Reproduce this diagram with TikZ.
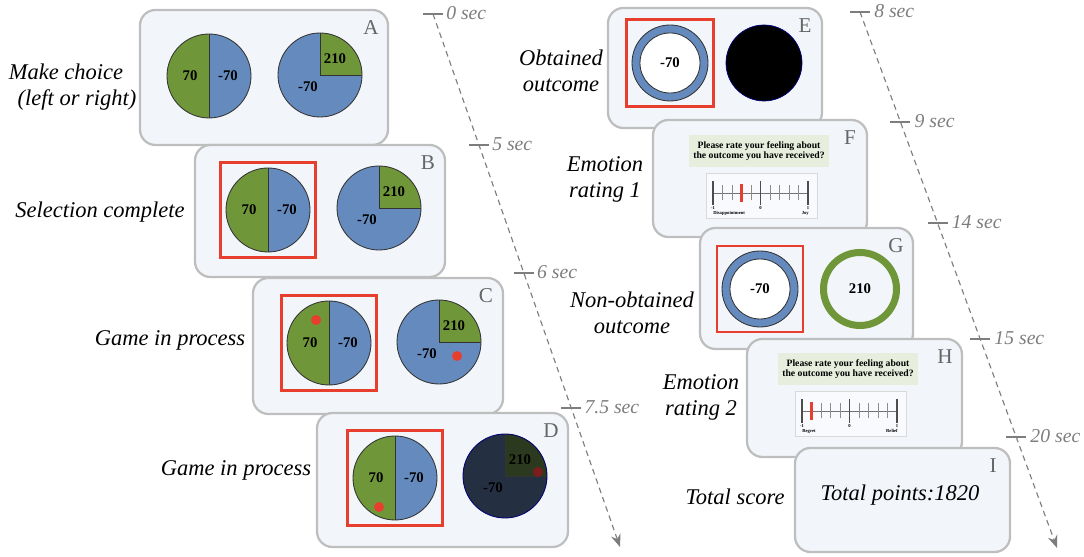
\documentclass[tikz,border=0pt]{standalone}
\usepackage{fontspec}
\setmainfont{Liberation Serif}[ItalicFont={Liberation Serif Italic},BoldFont={Liberation Serif Bold}]
\usetikzlibrary{calc,arrows.meta}
\definecolor{pgreen}{RGB}{112,150,58}
\definecolor{pblue}{RGB}{101,139,190}
\definecolor{pred}{RGB}{232,62,45}
\definecolor{pframe}{RGB}{190,190,190}
\definecolor{pfill}{RGB}{242,246,251}
\definecolor{qfill}{RGB}{231,238,222}
\definecolor{tgrey}{RGB}{125,125,125}
\definecolor{dnavy}{RGB}{36,48,66}
\definecolor{dolive}{RGB}{43,57,30}
\definecolor{dred}{RGB}{125,28,28}
\tikzset{
  panel/.style={draw=pframe,fill=pfill,line width=1.6pt,rounded corners=11pt},
  letter/.style={text=black!60,font=\fontsize{15}{15}\selectfont},
  phase/.style={font=\fontsize{16}{18.5}\selectfont\itshape,align=center},
  secs/.style={text=tgrey,font=\fontsize{14}{14}\selectfont\itshape,anchor=west,inner sep=0pt},
  num/.style={font=\fontsize{10.5}{10.5}\selectfont\bfseries},
  disc/.style={draw=black!80,line width=0.6pt},
  choice/.style={draw=pred,line width=1.8pt},
  timeline/.style={draw=tgrey,dash pattern=on 4pt off 3pt,line width=0.8pt,-{Stealth[length=9pt,width=7pt,inset=3pt]}},
  tinytext/.style={font=\fontsize{3.3}{3.3}\selectfont\bfseries,inner sep=0pt},
}
\newcommand{\panel}[4]{\draw[panel] (#2) rectangle (#3);\node[letter] (#1) at ($(#3)+(-17,-18)$) {#4};}
\newcommand{\halfdisc}[2]{%
  \coordinate (#1) at (#2);
  \fill[pgreen] ($(#1)+(0,42)$) arc[start angle=90,end angle=270,radius=42] -- cycle;
  \fill[pblue] ($(#1)+(0,-42)$) arc[start angle=-90,end angle=90,radius=42] -- cycle;
  \draw[disc] (#1) circle[radius=42];
  \draw[disc] ($(#1)+(0,42)$) -- ($(#1)+(0,-42)$);
  \node[num] (#1g) at ($(#1)+(-19,0)$) {70};
  \node[num] (#1b) at ($(#1)+(19,0)$) {-70};}
\newcommand{\quarterdisc}[5][black!80]{%
  \coordinate (#2) at (#3);
  \fill[#4] (#2) circle[radius=42];
  \fill[#5] (#2) -- ++(42,0) arc[start angle=0,end angle=90,radius=42] -- cycle;
  \draw[disc] ($(#2)+(42,0)$) -- (#2) -- ($(#2)+(0,42)$);
  \draw[disc,draw=#1] (#2) circle[radius=42];
  \node[num] (#2g) at ($(#2)+(15,16)$) {210};
  \node[num] (#2b) at ($(#2)+(-12,-12)$) {-70};}
\newcommand{\ring}[3]{%
  \coordinate (#1) at (#2);
  \draw[disc,fill=pblue] (#1) circle[radius=38];
  \draw[disc,fill=white] (#1) circle[radius=30];
  \node[num] (#1n) at (#1) {#3};}
\newcommand{\chosen}[2]{\draw[choice] ($(#1)+(-#2,-#2)$) rectangle ($(#1)+(#2,#2)$);}
\newcommand{\ratescale}[5]{%
  \coordinate (#1) at (#2);
  \node[fill=qfill,minimum width=3.5cm,minimum height=0.8cm,align=center,
    font=\fontsize{6.9}{7.6}\selectfont\bfseries] (#1q) at ($(#1)+(46,42)$)
    {Please rate your feeling about\\the outcome you have received?};
  \draw[black!15,fill=white!50!pfill] ($(#1)+(-7,-25)$) rectangle ($(#1)+(104,20)$);
  \draw[black!55,line width=0.6pt] (#1) -- ++(95,0);
  \foreach \k in {1,2,3,4,6,7,8,9}
    \draw[black!45,line width=0.6pt] ($(#1)+(9.5*\k,-7.5)$) -- ($(#1)+(9.5*\k,7.5)$);
  \foreach \k/\v in {0/-1,5/0,10/1}{
    \draw[black!70,line width=0.8pt] ($(#1)+(9.5*\k,-12)$) -- ($(#1)+(9.5*\k,11.5)$);
    \node[tinytext] at ($(#1)+(9.5*\k,-15)$) {\v};}
  \draw[pred,line width=1.5pt] ($(#1)+(9.5*#3,-9)$) -- ($(#1)+(9.5*#3,9)$);
  \node[tinytext,anchor=west] (#1l) at ($(#1)+(0,-20)$) {#4};
  \node[tinytext,anchor=east] (#1r) at ($(#1)+(96,-20)$) {#5};}

\begin{document}
\begin{tikzpicture}[x=0.025cm,y=0.025cm]
\useasboundingbox (0,0) rectangle (1084,557);

% choice phase
\panel{lA}{140,412}{388,547}{A}
\halfdisc{a1}{209,481}
\quarterdisc{a2}{320,482}{pblue}{pgreen}
\node[phase] (tA1) at (66,485) {Make choice};
\node[phase] (tA2) at (77,457) {(left or right)};

\panel{lB}{195,280}{445,412}{B}
\halfdisc{b1}{268,347}
\quarterdisc{b2}{379,349}{pblue}{pgreen}
\chosen{b1}{47.5}
\node[phase] (tB) at (100,345) {Selection complete};

\panel{lC}{253,143}{503,279}{C}
\halfdisc{c1}{329,214}
\quarterdisc{c2}{439,215}{pblue}{pgreen}
\chosen{c1}{47.5}
\fill[pred] ($(c1)+(-13,23)$) circle[radius=5];
\fill[pred] ($(c2)+(18,-14)$) circle[radius=5];
\node[phase] (tC) at (170,217) {Game in process};

\panel{lD}{317,10}{568,144}{D}
\halfdisc{d1}{395,79}
\quarterdisc[blue!45!black]{d2}{505,81}{dnavy}{dolive}
\chosen{d1}{47.5}
\fill[pred] ($(d1)+(-16,-29)$) circle[radius=5];
\fill[dred] ($(d2)+(33,4)$) circle[radius=5];
\node[phase] (tD) at (236,87) {Game in process};

% outcome phase
\panel{lE}{608,429}{822,549}{E}
\ring{e1}{670,494}{-70}
\draw[fill=black,draw=blue!50!black,line width=0.5pt] (764,494) coordinate (e2) circle[radius=38];
\chosen{e1}{43.5}
\node[phase] (tE) at (561,486) {Obtained\\outcome};

\panel{lF}{653,320}{867,437}{F}
\ratescale{f1}{713,364}{3}{Disappointment}{Joy}
\node[phase] (tF) at (605,378) {Emotion\\rating 1};

\panel{lG}{700,208}{913,329}{G}
\ring{g1}{760,268}{-70}
\chosen{g1}{43}
\draw[pgreen,line width=5pt] (860,268) coordinate (g2) circle[radius=36.5];
\node[num] (g2n) at (g2) {210};
\node[phase] (tG) at (632,244) {Non-obtained\\outcome};

\panel{lH}{747,100}{962,218}{H}
\ratescale{h1}{802,146}{1}{Regret}{Relief}
\node[phase] (tH) at (701,160) {Emotion\\rating 2};

\panel{lI}{795,5}{1010,109}{I}
\node[font=\fontsize{16}{16}\selectfont\itshape] (score) at (900,62) {Total points:1820};
\node[phase] (tI) at (735,60) {Total score};

% time lines
\coordinate (tl0) at (433,543);
\coordinate (tl1) at (620,10);
\draw[timeline] (tl0) -- (tl1);
\foreach \f/\lab [count=\i] in {0/0 sec,0.2458/5 sec,0.4859/6 sec,0.7392/7.5 sec}{
  \coordinate (tk\i) at ($(tl0)!\f!(tl1)$);
  \draw[tgrey,line width=0.8pt] ($(tk\i)+(-10,0)$) -- ($(tk\i)+(10,0)$);
  \node[secs] (ts\i) at ($(tk\i)+(13,1)$) {\lab};}
\coordinate (tr0) at (860,545);
\coordinate (tr1) at (1057,9);
\draw[timeline] (tr0) -- (tr1);
\foreach \f/\lab [count=\i] in {0/8 sec,0.2052/9 sec,0.3937/14 sec,0.6101/15 sec,0.7929/20 sec}{
  \coordinate (rk\i) at ($(tr0)!\f!(tr1)$);
  \draw[tgrey,line width=0.8pt] ($(rk\i)+(-10,0)$) -- ($(rk\i)+(10,0)$);
  \node[secs] (rs\i) at ($(rk\i)+(14,1)$) {\lab};}
\end{tikzpicture}
\end{document}
